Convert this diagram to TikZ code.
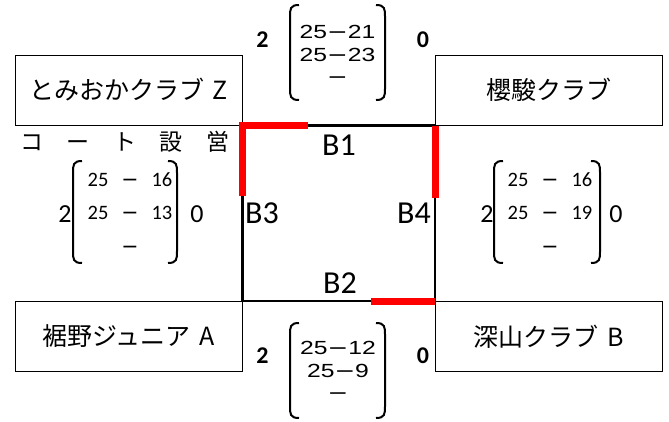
\documentclass[tikz,border=0pt]{standalone}
\usepackage{fontspec}
\setmainfont{Carlito}
\newfontfamily\jpfont{Noto Sans CJK JP}
\newfontfamily\arialfont{Liberation Sans}
\newfontfamily\dashfont{DejaVu Sans}
\newcommand\setdash{{\dashfont −}}
\usetikzlibrary{positioning}

\tikzset{
  team/.style={draw, line width=1pt, minimum width=227pt, minimum height=70pt, inner sep=0pt, font=\jpfont\fontsize{25}{30}\selectfont},
  court/.style={line width=2.7pt},
  hold/.style={red, line width=7pt, line join=miter},
  paren/.style={line width=2pt},
  courtlabel/.style={font=\fontsize{32}{36}\selectfont, inner sep=0pt},
  setwin/.style={font=\bfseries\fontsize{24}{28}\selectfont, inner sep=0pt},
  sidewin/.style={font=\fontsize{26}{30}\selectfont, inner sep=0pt},
  games/.style={font=\arialfont\fontsize{19}{22.5}\selectfont, inner sep=0pt},
  sidegames/.style={font=\fontsize{20.5}{33.5}\selectfont, inner sep=0pt},
}

\begin{document}
\begin{tikzpicture}[x=1pt, y=-1pt]
\useasboundingbox (0,0) rectangle (669,421);

% teams
\node[team] (tomioka) at (128.5,90) {とみおかクラブ\hspace{0.35em}Z};
\node[team] (ouryun) at (549,90) {櫻駿クラブ};
\node[team] (susono) at (128.5,336.5) {裾野ジュニア\hspace{0.35em}A};
\node[team] (miyama) at (549,336.5) {深山クラブ\hspace{0.35em}B};

% court
\draw[court] (tomioka.south east) rectangle (miyama.north west);
\draw[hold] ([yshift=-70pt]tomioka.south east) -- (tomioka.south east) -- ++(65,0);
\draw[hold] (ouryun.south west) -- ++(0,72);
\draw[hold] (miyama.north west) -- ++(-64,0);
\node[courtlabel] (b1) at (339,145) {B1};
\node[courtlabel] (b2) at (340,283) {B2};
\node[courtlabel] (b3) at (262,213) {B3};
\node[courtlabel] (b4) at (414,213) {B4};

\node[font=\jpfont\fontsize{23}{28}\selectfont, inner sep=0pt] (setup) at (125,142)
  {コ\hspace{23.5pt}ー\hspace{23.5pt}ト\hspace{23.5pt}設\hspace{23.5pt}営};

% brackets
\foreach \l/\r/\t/\b in {290/385/5/100, 290/385/323/418, 73/177/161/263, 494/600/161/263}{
  \draw[paren] (\l+9,\t) .. controls (\l,\t) and (\l,\t+4) .. (\l,\t+12) -- (\l,\b-12) .. controls (\l,\b-4) and (\l,\b) .. (\l+9,\b);
  \draw[paren] (\r-9,\t) .. controls (\r,\t) and (\r,\t+4) .. (\r,\t+12) -- (\r,\b-12) .. controls (\r,\b-4) and (\r,\b) .. (\r-9,\b);
}

% B1 result
\node[setwin] (topwin) at (262.5,40) {2};
\node[setwin] (toplose) at (423,40) {0};
\node[games] (topsets) at (337.5,56.5) {\scalebox{1.3}[1]{\begin{tabular}{@{}c@{}}25\setdash21\\25\setdash23\\\setdash\end{tabular}}};

% B2 result
\node[setwin] (botwin) at (262.5,355.5) {2};
\node[setwin] (botlose) at (423,355.5) {0};
\node[games] (botsets) at (338,372.5) {\scalebox{1.3}[1]{\begin{tabular}{@{}c@{}}25\setdash12\\25\setdash9\\\setdash\end{tabular}}};

% B3 result
\node[sidewin] (leftwin) at (65,214) {2};
\node[sidewin] (leftlose) at (197,214) {0};
\node[sidegames] (leftsets) at (130,213) {\begin{tabular}{@{}c@{\hspace{13pt}}c@{\hspace{13pt}}c@{}}25&\setdash&16\\25&\setdash&13\\&\setdash&\end{tabular}};

% B4 result
\node[sidewin] (rightwin) at (487,214) {2};
\node[sidewin] (rightlose) at (616,214) {0};
\node[sidegames] (rightsets) at (550,213) {\begin{tabular}{@{}c@{\hspace{13pt}}c@{\hspace{13pt}}c@{}}25&\setdash&16\\25&\setdash&19\\&\setdash&\end{tabular}};
\end{tikzpicture}
\end{document}
